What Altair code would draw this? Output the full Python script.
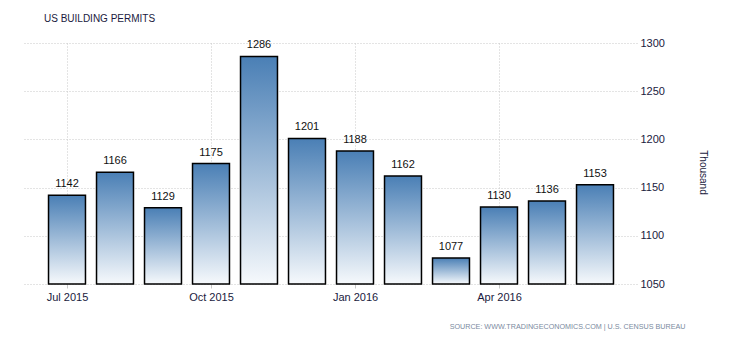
import altair as alt
import pandas as pd

months = ["Jul 2015", "Aug 2015", "Sep 2015", "Oct 2015", "Nov 2015", "Dec 2015",
          "Jan 2016", "Feb 2016", "Mar 2016", "Apr 2016", "May 2016", "Jun 2016"]
values = [1142, 1166, 1129, 1175, 1286, 1201, 1188, 1162, 1077, 1130, 1136, 1153]
tick_idx = [0, 3, 6, 9]
tick_labels = ["Jul 2015", "Oct 2015", "Jan 2016", "Apr 2016"]
y_ticks = [1050, 1100, 1150, 1200, 1250, 1300]

half = 0.385
df = pd.DataFrame({
    "month": months,
    "idx": list(range(len(months))),
    "value": values,
})
df["x0"] = df["idx"] - half
df["x1"] = df["idx"] + half

label_map = "{" + ",".join(f"'{i}':'{l}'" for i, l in zip(tick_idx, tick_labels)) + "}"

FONT = "Liberation Sans"

xscale = alt.Scale(domain=[-0.9375, 11.875], nice=False, zero=False)
yscale = alt.Scale(domain=[1050, 1300], nice=False, zero=False)

base = alt.Chart(df)

bars = base.mark_rect(
    stroke="black",
    strokeWidth=1.5,
    fill=alt.Gradient(
        gradient="linear",
        stops=[alt.GradientStop(color="#4a7fb5", offset=0),
               alt.GradientStop(color="#f6f9fc", offset=1)],
        x1=0, x2=0, y1=0, y2=1,
    ),
).encode(
    x=alt.X("x0:Q", scale=xscale, axis=alt.Axis(
        values=tick_idx,
        labelExpr=f"{label_map}[''+datum.value]",
        grid=True, gridDash=[1, 2], gridColor="#c8c8c8",
        domain=False, tickColor="#c8c8c8", tickSize=4,
        labelFont=FONT, labelFontSize=11, labelColor="#1a1a40", labelPadding=3,
        title="SOURCE: WWW.TRADINGECONOMICS.COM | U.S. CENSUS BUREAU",
        titleFont=FONT, titleFontSize=7.2, titleFontWeight="normal", titleColor="#7a8aa0",
        titleAnchor="end", titleAlign="right", titleX=663, titleY=42, titleBaseline="middle",
    )),
    x2="x1:Q",
    y=alt.Y("value:Q", scale=yscale, axis=alt.Axis(
        orient="right", values=y_ticks, format="d",
        grid=True, gridDash=[1, 2], gridColor="#c8c8c8",
        domain=False, ticks=False, labelPadding=3,
        labelFont=FONT, labelFontSize=11, labelColor="#1a1a40",
        title="Thousand", titleFont=FONT, titleFontSize=10, titleFontWeight="normal",
        titleColor="#1a1a40", titleAngle=90, titleX=65, titleY=129,
        titleAlign="center", titleBaseline="middle",
    )),
    y2=alt.datum(1050),
)

labels = base.mark_text(
    font=FONT, fontSize=11, color="#111111", baseline="bottom", dy=-6,
).encode(
    x=alt.X("idx:Q", scale=xscale),
    y=alt.Y("value:Q", scale=yscale),
    text=alt.Text("value:Q"),
)

chart = alt.layer(bars, labels).properties(
    width=615, height=241,
    autosize=alt.AutoSizeParams(type="none"),
    padding={"left": 22, "top": 43, "right": 93, "bottom": 56},
    title=alt.TitleParams(
        "US BUILDING PERMITS", anchor="start", dx=22, offset=13,
        font=FONT, fontSize=10, fontWeight="normal", color="#1a1a40",
    ),
).configure_view(stroke=None)

chart.save("out.html", embed_options={"renderer": "svg", "actions": False})
